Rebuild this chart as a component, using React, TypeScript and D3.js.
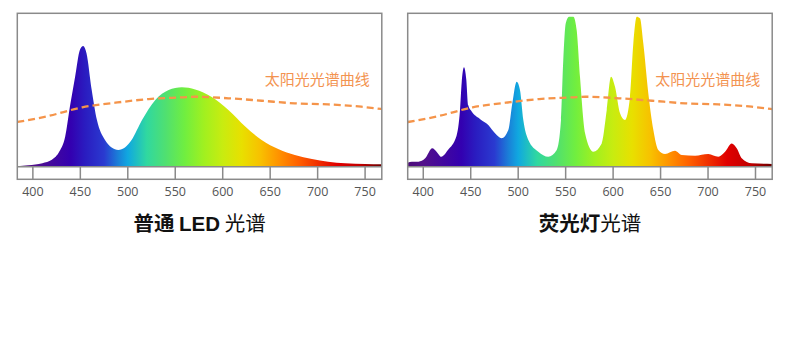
import React from "react";
import * as d3 from "d3";

// ---- data ----
const tickValues = [400, 450, 500, 550, 600, 650, 700, 750];

const ledNm = [383.6, 395, 410, 420, 428, 434, 439, 444.5, 449.5, 453, 456.5, 462, 467.5, 476, 483, 490, 497, 504, 515, 529, 543, 557, 571, 588, 606, 624, 641, 659, 676, 694, 711, 729, 750, 767.6];
const ledVal = [0.3, 1, 2.3, 4.5, 10, 19.6, 39, 58.7, 76, 78.7, 74, 50, 30.4, 17.4, 12.5, 10.9, 12.5, 17.4, 30.4, 43.5, 50, 51.8, 50.4, 45.6, 37, 26.1, 17.4, 11.3, 7.6, 5.0, 3.3, 2.2, 1.8, 1.6];

const fluoNm = [383.6, 388, 395, 402, 409.5, 414, 419, 426, 435, 438.7, 440.5, 442.9, 445.3, 447.4, 451, 460, 468.5, 475.6, 482.6, 489.6, 493.8, 498.4, 501.9, 505.4, 510.7, 521.2, 531.7, 540.6, 545.1, 547.5, 550.1, 553.5, 558.1, 561.6, 565.1, 570.4, 579.1, 588, 593.3, 597.8, 602, 607.3, 612.5, 617.8, 621.3, 624.9, 628.3, 631.8, 637.1, 642.4, 647.6, 654.7, 665.2, 672.3, 686.3, 700.3, 710.8, 717.9, 725, 730.2, 735.5, 746.1, 767.6];
const fluoVal = [2.6, 3.2, 3.3, 5.5, 12, 9.8, 6.5, 10.9, 20, 37, 55, 64.8, 57, 40, 36, 31, 27.2, 21.8, 18.5, 23.9, 41.3, 55.4, 50, 30.4, 17.4, 9.8, 6.5, 10.9, 30.4, 69.6, 93.5, 97.8, 97.8, 89.1, 58.7, 22, 9.8, 15.2, 37, 58.7, 52.2, 34.8, 30.4, 45.6, 80.4, 97.8, 96.7, 80.4, 47.8, 23.9, 10.9, 8.3, 10.4, 7.6, 7.2, 8.3, 6.5, 9.8, 15.2, 12, 5.5, 2.2, 1.8];

const sunNm = [383.6, 416, 452, 487, 522, 557, 571, 606, 641, 676, 711, 746, 767.6];
const sunVal = [29.1, 33, 38.7, 41.7, 44.1, 45.2, 45.6, 44.6, 43, 41.3, 40.6, 39.1, 37.6];

const spectrumStopNm = [383.6, 400, 440, 455, 475, 490, 500, 520, 540, 560, 580, 600, 620, 640, 660, 680, 700, 720, 745, 767.6];
const spectrumStopColor = ["#4a0a78", "#52108a", "#3300b0", "#2a1cc0", "#2a3ad0", "#1a80d8", "#10a8e0", "#30d8a0", "#50e070", "#70ee40", "#a0f020", "#c8ec10", "#e8e000", "#f8c000", "#ff9000", "#ff6000", "#f03000", "#e00000", "#c00000", "#6a0000"];

const sunLabel = "太阳光光谱曲线";
const titleBoldCjk = ["普通 ", "荧光灯"];
const titleBoldLatin = ["LED", ""];
const titleRegular = [" 光谱", "光谱"];

// ---- layout ----
const W = 790, H = 339;
const panelW = 364.5;
const top = 13.3, base = 166.7, axisBottom = 179.3;
const panelX = [17.3, 407.7];
const domain: [number, number] = [383.6, 767.6];

function Panel({ idx, nm, val }: { idx: number; nm: number[]; val: number[] }) {
  const x0 = panelX[idx];
  const x = d3.scaleLinear().domain(domain).range([x0, x0 + panelW]);
  const y = d3.scaleLinear().domain([0, 100]).range([base, top]);
  const pts = nm.map((n, i) => [n, val[i]] as [number, number]);
  const area = d3
    .area<[number, number]>()
    .x((d) => x(d[0]))
    .y0(base)
    .y1((d) => y(d[1]))
    .curve(d3.curveMonotoneX);
  const sunPts = sunNm.map((n, i) => [n, sunVal[i]] as [number, number]);
  const line = d3
    .line<[number, number]>()
    .x((d) => x(d[0]))
    .y((d) => y(d[1]))
    .curve(d3.curveMonotoneX);
  const gid = `spec${idx}`;
  const cx = x0 + panelW / 2;
  return (
    <g>
      <defs>
        <linearGradient id={gid} gradientUnits="userSpaceOnUse" x1={x(domain[0])} x2={x(domain[1])} y1={0} y2={0}>
          {spectrumStopNm.map((n, i) => (
            <stop key={i} offset={(n - domain[0]) / (domain[1] - domain[0])} stopColor={spectrumStopColor[i]} />
          ))}
        </linearGradient>
        <clipPath id={`clip${idx}`}>
          <rect x={x0} y={top} width={panelW} height={base - top} />
        </clipPath>
      </defs>
      <rect x={x0} y={top} width={panelW} height={axisBottom - top} fill="#fff" />
      <g clipPath={`url(#clip${idx})`}>
        <path d={area(pts) || ""} fill={`url(#${gid})`} />
        <path d={line(sunPts) || ""} fill="none" stroke="#f5944a" strokeWidth={2.3} strokeDasharray="7 4" />
      </g>
      <text x={x0 + 352.5} y={84.5} textAnchor="end" fontSize={15} fill="#f39350" fontFamily="'Noto Sans CJK SC', sans-serif">
        {sunLabel}
      </text>
      <rect x={x0} y={top} width={panelW} height={axisBottom - top} fill="none" stroke="#8a8a8a" strokeWidth={1.5} />
      <line x1={x0} x2={x0 + panelW} y1={base} y2={base} stroke="#8a8a8a" strokeWidth={1.5} />
      {tickValues.map((t) => (
        <g key={t}>
          <line x1={x(t)} x2={x(t)} y1={base} y2={axisBottom} stroke="#8a8a8a" strokeWidth={1.5} />
          <text x={x(t)} y={195.5} textAnchor="middle" fontSize={12.5} fill="#555" fontFamily="'Open Sans', sans-serif">
            {t}
          </text>
        </g>
      ))}
      <text x={cx} y={231} textAnchor="middle" fontSize={20.5} fill="#111" fontFamily="'Noto Sans CJK SC', sans-serif">
        <tspan fontWeight="bold">{titleBoldCjk[idx]}</tspan>
        {titleBoldLatin[idx] ? (
          <tspan fontWeight="bold" fontFamily="'Liberation Sans', Arial, sans-serif">{titleBoldLatin[idx]}</tspan>
        ) : null}
        <tspan fontWeight="normal">{titleRegular[idx]}</tspan>
      </text>
    </g>
  );
}

export default function App() {
  return (
    <svg width={W} height={H} style={{ position: "absolute", left: 0, top: 0, background: "#fff" }}>
      <rect width={W} height={H} fill="#fff" />
      <Panel idx={0} nm={ledNm} val={ledVal} />
      <Panel idx={1} nm={fluoNm} val={fluoVal} />
    </svg>
  );
}
